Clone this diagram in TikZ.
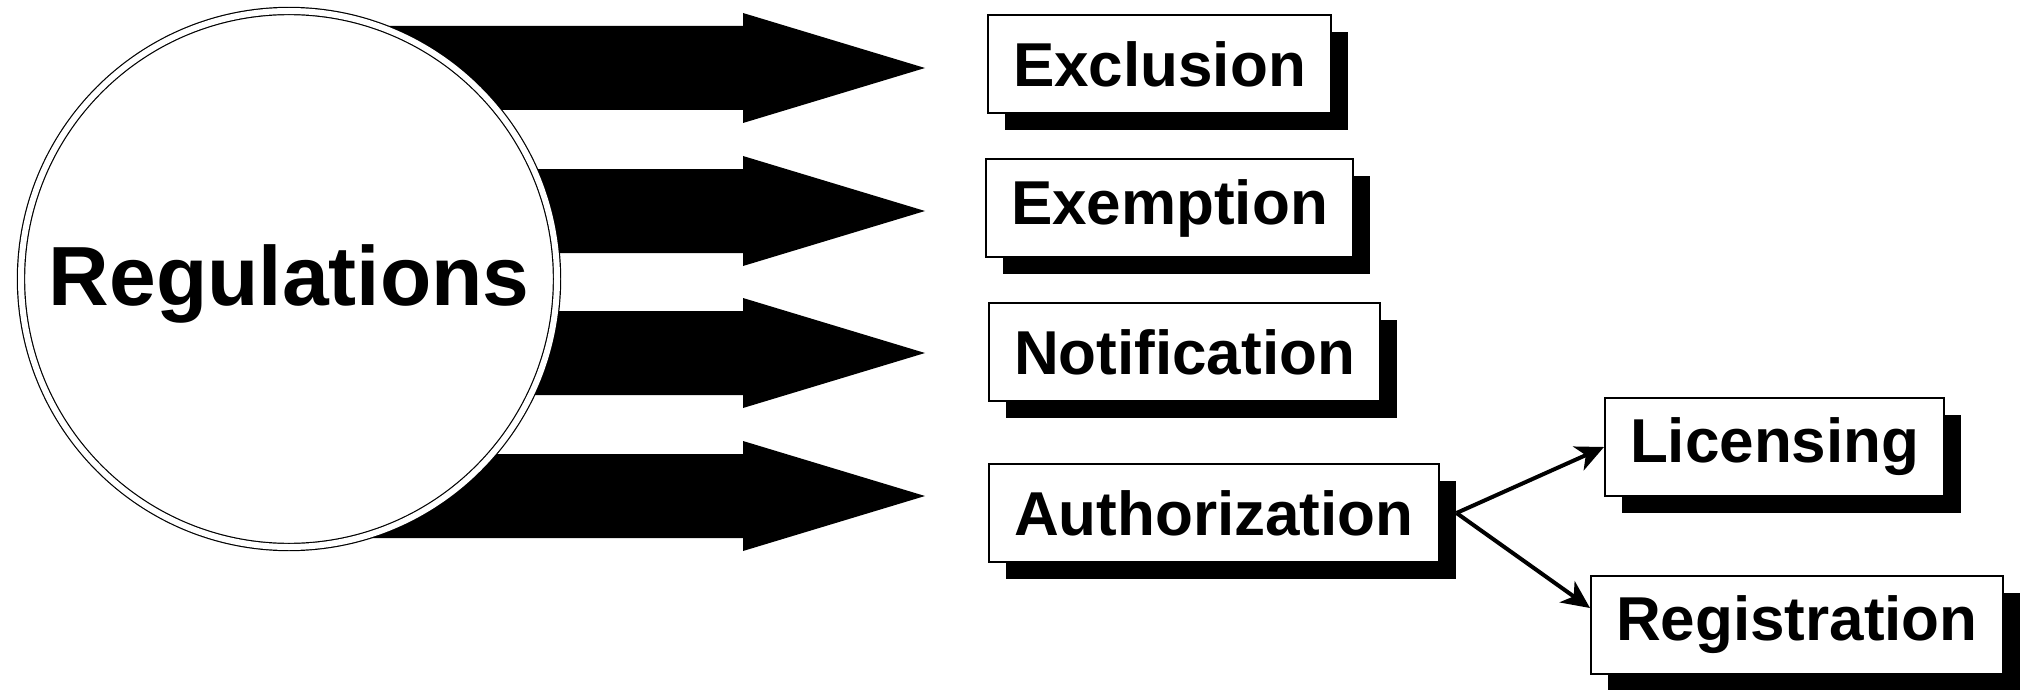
\documentclass[tikz,border=0pt]{standalone}
\usepackage{fontspec}
\setmainfont{Liberation Sans}
\usetikzlibrary{shadows,arrows.meta}
\newcommand{\shafthalf}{42}
\newcommand{\headhalf}{55}
\tikzset{
    common/.style={draw, fill=white, line width=1pt},
    term/.style={common, anchor=west, rectangle, minimum height=49pt, inner xsep=12.5pt, inner ysep=0pt,
        font=\fontsize{31}{36}\selectfont\bfseries,
        drop shadow={shadow xshift=8.5pt, shadow yshift=-8.5pt, opacity=1, fill=black}},
    regcircle/.style={common, circle, double, double distance=3pt, line width=0.6pt, minimum size=268pt,
        inner sep=0pt, text depth=0.37em, font=\fontsize{42}{48}\selectfont\bfseries},
    branch/.style={-{Stealth[length=14pt, width=13pt, inset=4pt]}, line width=2pt}
}
\begin{document}
\begin{tikzpicture}[x=0.5pt, y=-0.5pt]
    \useasboundingbox (0,0) rectangle (2029,690);
    % big arrows, behind the circle
    \foreach \y in {68,211,353,496}
        \fill (289,{\y-\shafthalf}) -- (743,{\y-\shafthalf}) -- (743,{\y-\headhalf}) -- (925,\y)
            -- (743,{\y+\headhalf}) -- (743,{\y+\shafthalf}) -- (289,{\y+\shafthalf}) -- cycle;
    \node[regcircle] (reg) at (289,279) {Regulations};

    \node[term] (excl) at (987,64) {Exclusion};
    \node[term] (exem) at (985,208) {Exemption};
    \node[term] (noti) at (988,352) {Notification};
    \node[term] (auth) at (988,513) {Authorization};
    \node[term] (lic) at (1604,447) {Licensing};
    \node[term] (regi) at (1590,625) {Registration};

    \coordinate (split) at ([xshift=8.5pt]auth.east);
    \draw[branch] (split) -- (lic.west);
    \draw[branch] (split) -- ([yshift=8.5pt]regi.west);
\end{tikzpicture}
\end{document}
